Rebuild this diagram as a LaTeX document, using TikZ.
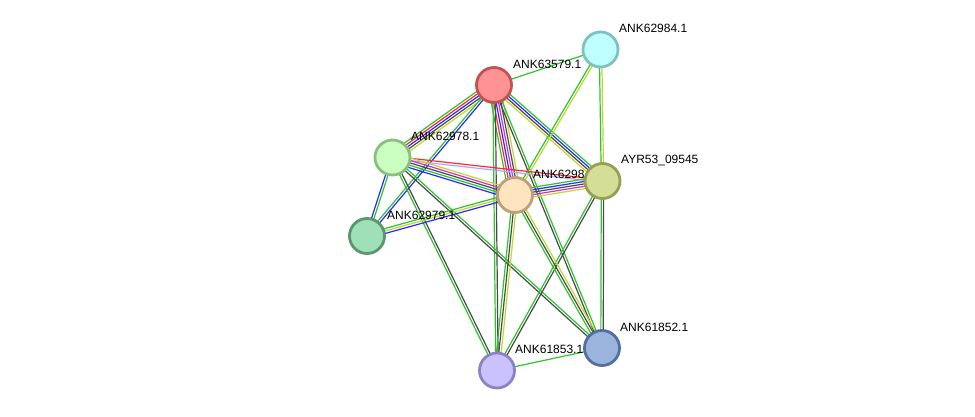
\documentclass[tikz,border=0pt]{standalone}
\usepackage{fontspec}
\setmainfont{Liberation Sans}
\usetikzlibrary{calc,backgrounds}
\definecolor{eg}{HTML}{2EC42E}
\definecolor{er}{HTML}{FF2A2A}
\definecolor{eb}{HTML}{2A2AFF}
\definecolor{ek}{HTML}{4A4A4A}
\definecolor{em}{HTML}{D030D0}
\definecolor{ey}{HTML}{BED830}
\definecolor{el}{HTML}{A8A8FF}
\newcommand\bund[3]{%
  \xdef\bundn{0}%
  \foreach \col in {#3}{\xdef\bundn{\the\numexpr\bundn+1\relax}}%
  \foreach \col [count=\i] in {#3}{%
    \pgfmathsetmacro\off{(\i-(\bundn+1)/2)*2.4}%
    \draw[draw=\col, line width=1.2pt] ($(#1)!\off pt!90:(#2)$) -- ($(#2)!\off pt!-90:(#1)$);
  }}
\tikzset{
  pnode/.style={circle, minimum size=35pt, inner sep=0pt, line width=2.8pt},
  lbl/.style={anchor=west, inner sep=0pt, font=\fontsize{12pt}{12pt}\selectfont, text=black}
}
\begin{document}
\begin{tikzpicture}[x=1pt,y=-1pt]
\useasboundingbox (0,0) rectangle (975,416);
% labels
\node[lbl] (lA) at (513,64) {ANK63579.1};
\node[lbl] (lB) at (619,28) {ANK62984.1};
\node[lbl] (lC) at (411,136) {ANK62978.1};
\node[lbl] (lD) at (621,160) {AYR53\_09545};
\node[lbl] (lE) at (533,174) {ANK6298};
\node[lbl] (lF) at (387,215) {ANK62979.1};
\node[lbl] (lG) at (620,327) {ANK61852.1};
\node[lbl] (lH) at (515,349) {ANK61853.1};
% nodes
\node[pnode, fill={rgb,255:red,255;green,146;blue,146}, draw={rgb,255:red,192;green,84;blue,84}] (A) at (494,85) {};
\node[pnode, fill={rgb,255:red,190;green,255;blue,255}, draw={rgb,255:red,128;green,192;blue,192}] (B) at (600.5,49.5) {};
\node[pnode, fill={rgb,255:red,202;green,255;blue,192}, draw={rgb,255:red,140;green,190;blue,130}] (C) at (392.5,157.5) {};
\node[pnode, fill={rgb,255:red,212;green,222;blue,150}, draw={rgb,255:red,150;green,160;blue,80}] (D) at (602.5,181) {};
\node[pnode, fill={rgb,255:red,255;green,228;blue,192}, draw={rgb,255:red,190;green,160;blue,120}] (E) at (515,195) {};
\node[pnode, fill={rgb,255:red,160;green,224;blue,184}, draw={rgb,255:red,90;green,150;blue,110}] (F) at (367,236) {};
\node[pnode, fill={rgb,255:red,154;green,180;blue,222}, draw={rgb,255:red,85;green,110;blue,160}] (G) at (602,348) {};
\node[pnode, fill={rgb,255:red,202;green,194;blue,255}, draw={rgb,255:red,140;green,130;blue,195}] (H) at (497,370.5) {};
% edges
\begin{scope}[on background layer]
\fill[white] (0,0) rectangle (975,416);
\bund{A}{B}{eg}
\bund{A}{C}{eg,er,eb,ek,ey}
\bund{A}{D}{ey,ek,eb,eg}
\bund{A}{E}{eg,er,eb,em,ek,ey}
\bund{A}{F}{eg,eb}
\bund{A}{G}{ek,eg}
\bund{A}{H}{eg,ek}
\bund{B}{D}{eg,ey}
\bund{B}{E}{eg,ey}
\bund{C}{D}{el,er}
\bund{C}{E}{eb,eg,ek,em,ey}
\bund{C}{F}{eb,eg}
\bund{C}{G}{ek,eg}
\bund{C}{H}{eg,ek}
\bund{D}{E}{eg,eb,ek,em,ey}
\bund{D}{G}{eg,ek}
\bund{D}{H}{eg,ek}
\bund{E}{F}{eg,ey,eb}
\bund{E}{G}{eg,ek,ey}
\bund{E}{H}{eg,ek,ey}
\bund{G}{H}{eg}
\end{scope}
\end{tikzpicture}
\end{document}
